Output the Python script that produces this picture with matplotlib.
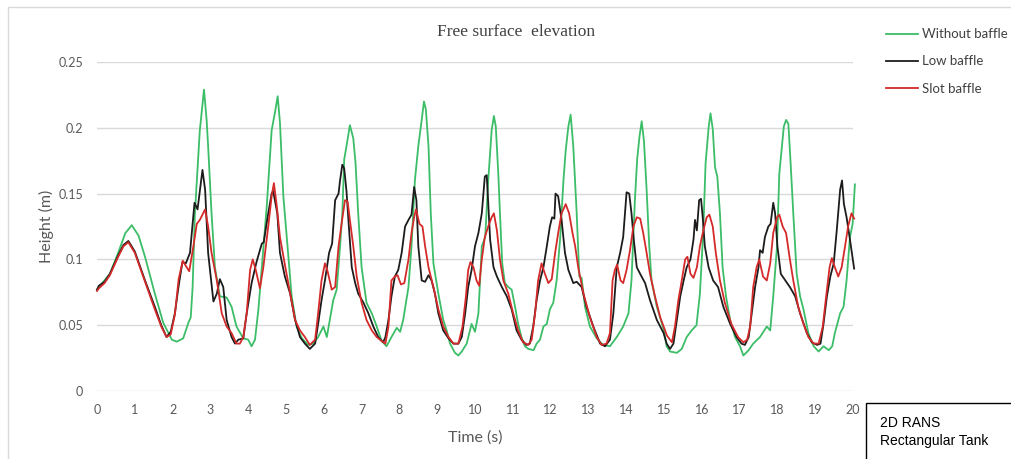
import matplotlib.pyplot as plt
from matplotlib.patches import Rectangle
from matplotlib.ticker import FuncFormatter

# free surface elevation records, time (s) / height (m)
t_without = [0, 0.05, 0.34, 0.56, 0.75, 0.92, 1.1, 1.27, 1.53, 1.75, 1.98, 2.11, 2.28, 2.42, 2.48,
             2.53, 2.59, 2.72, 2.83, 2.90, 2.94, 3.03, 3.12, 3.25, 3.43, 3.56, 3.69, 3.87, 4.0,
             4.09, 4.18, 4.27, 4.36, 4.49, 4.62, 4.71, 4.78, 4.84, 4.93, 5.06, 5.15, 5.28, 5.42,
             5.59, 5.72, 5.85, 5.99, 6.08, 6.16, 6.25, 6.34, 6.43, 6.49, 6.54, 6.60, 6.69, 6.78,
             6.84, 6.91, 7.00, 7.13, 7.27, 7.40, 7.53, 7.66, 7.79, 7.93, 8.02, 8.10, 8.24, 8.32,
             8.41, 8.50, 8.59, 8.65, 8.70, 8.77, 8.83, 8.90, 9.03, 9.16, 9.25, 9.34, 9.47, 9.56,
             9.65, 9.78, 9.91, 10.0, 10.09, 10.18, 10.27, 10.35, 10.44, 10.50, 10.55, 10.62,
             10.66, 10.72, 10.79, 10.88, 10.97, 11.06, 11.14, 11.23, 11.32, 11.41, 11.55, 11.63,
             11.72, 11.81, 11.90, 11.98, 12.07, 12.16, 12.25, 12.34, 12.40, 12.47, 12.53, 12.60,
             12.69, 12.76, 12.82, 12.91, 13.04, 13.22, 13.39, 13.57, 13.75, 13.92, 14.06, 14.14,
             14.23, 14.29, 14.35, 14.41, 14.47, 14.54, 14.61, 14.67, 14.81, 14.99, 15.07, 15.16,
             15.34, 15.47, 15.60, 15.73, 15.86, 15.95, 16.04, 16.10, 16.18, 16.23, 16.29, 16.35,
             16.41, 16.48, 16.55, 16.64, 16.75, 16.88, 17.01, 17.10, 17.24, 17.36, 17.54, 17.72,
             17.81, 17.89, 17.99, 18.05, 18.11, 18.17, 18.23, 18.29, 18.35, 18.42, 18.51, 18.60,
             18.69, 18.82, 18.96, 19.09, 19.22, 19.36, 19.45, 19.52, 19.66, 19.75, 19.83, 19.92,
             19.99, 20.05]
h_without = [0.077, 0.079, 0.089, 0.105, 0.120, 0.126, 0.118, 0.102, 0.074, 0.052, 0.039, 0.0375,
             0.040, 0.052, 0.056, 0.079, 0.135, 0.198, 0.229, 0.206, 0.186, 0.135, 0.094, 0.072,
             0.071, 0.064, 0.049, 0.040, 0.039, 0.034, 0.039, 0.062, 0.094, 0.140, 0.198, 0.212,
             0.224, 0.204, 0.148, 0.103, 0.072, 0.049, 0.040, 0.035, 0.036, 0.041, 0.049, 0.041,
             0.054, 0.069, 0.077, 0.110, 0.135, 0.176, 0.186, 0.202, 0.192, 0.173, 0.135, 0.094,
             0.067, 0.059, 0.049, 0.038, 0.034, 0.041, 0.048, 0.045, 0.054, 0.079, 0.110, 0.160,
             0.186, 0.206, 0.220, 0.214, 0.186, 0.135, 0.097, 0.074, 0.054, 0.046, 0.036, 0.029,
             0.027, 0.030, 0.036, 0.051, 0.045, 0.059, 0.110, 0.117, 0.160, 0.198, 0.209, 0.201,
             0.163, 0.135, 0.097, 0.082, 0.079, 0.077, 0.064, 0.051, 0.041, 0.034, 0.032, 0.031,
             0.036, 0.039, 0.049, 0.051, 0.062, 0.067, 0.084, 0.115, 0.160, 0.183, 0.201, 0.210,
             0.186, 0.135, 0.087, 0.086, 0.064, 0.049, 0.040, 0.035, 0.034, 0.041, 0.049, 0.059,
             0.084, 0.145, 0.176, 0.193, 0.205, 0.190, 0.153, 0.110, 0.084, 0.064, 0.047, 0.034,
             0.030, 0.029, 0.032, 0.041, 0.046, 0.050, 0.074, 0.122, 0.173, 0.200, 0.211, 0.199,
             0.170, 0.163, 0.135, 0.094, 0.072, 0.054, 0.041, 0.034, 0.027, 0.031, 0.036, 0.041,
             0.049, 0.046, 0.072, 0.110, 0.165, 0.183, 0.201, 0.206, 0.203, 0.173, 0.135, 0.089,
             0.072, 0.062, 0.044, 0.034, 0.030, 0.034, 0.031, 0.034, 0.044, 0.059, 0.064, 0.084,
             0.117, 0.127, 0.157]

t_low = [0, 0.05, 0.2, 0.34, 0.56, 0.7, 0.83, 1.0, 1.27, 1.53, 1.70, 1.84, 1.95, 2.06, 2.16, 2.26,
         2.35, 2.46, 2.58, 2.66, 2.79, 2.86, 2.94, 3.08, 3.17, 3.25, 3.34, 3.43, 3.56, 3.65, 3.74,
         3.87, 3.96, 4.09, 4.22, 4.36, 4.41, 4.53, 4.62, 4.66, 4.77, 4.84, 4.97, 5.11, 5.24, 5.37,
         5.50, 5.63, 5.77, 5.85, 5.94, 6.03, 6.14, 6.22, 6.30, 6.39, 6.43, 6.49, 6.54, 6.60, 6.67,
         6.74, 6.83, 6.91, 7.05, 7.18, 7.31, 7.44, 7.57, 7.63, 7.71, 7.79, 7.88, 7.97, 8.06, 8.15,
         8.24, 8.32, 8.39, 8.45, 8.50, 8.59, 8.68, 8.77, 8.85, 8.94, 9.03, 9.16, 9.30, 9.43, 9.56,
         9.65, 9.74, 9.82, 9.91, 10.0, 10.09, 10.18, 10.26, 10.31, 10.35, 10.40, 10.49, 10.58,
         10.71, 10.84, 10.97, 11.10, 11.23, 11.36, 11.45, 11.54, 11.63, 11.72, 11.81, 11.90,
         11.98, 12.04, 12.10, 12.13, 12.20, 12.29, 12.38, 12.47, 12.60, 12.69, 12.82, 12.95,
         13.13, 13.31, 13.44, 13.57, 13.66, 13.75, 13.84, 13.92, 14.01, 14.08, 14.14, 14.20,
         14.28, 14.37, 14.50, 14.63, 14.81, 14.99, 15.07, 15.16, 15.25, 15.34, 15.43, 15.52,
         15.60, 15.70, 15.78, 15.82, 15.87, 15.93, 15.98, 16.03, 16.08, 16.18, 16.30, 16.43,
         16.57, 16.75, 16.92, 17.05, 17.14, 17.24, 17.32, 17.41, 17.50, 17.54, 17.61, 17.67,
         17.76, 17.82, 17.89, 17.94, 18.0, 18.09, 18.21, 18.33, 18.47, 18.60, 18.78, 18.91,
         19.05, 19.14, 19.22, 19.31, 19.40, 19.49, 19.57, 19.66, 19.71, 19.76, 19.83, 19.92,
         20.03]
h_low = [0.077, 0.080, 0.083, 0.089, 0.103, 0.111, 0.114, 0.106, 0.084, 0.064, 0.050, 0.041,
         0.045, 0.059, 0.080, 0.098, 0.097, 0.105, 0.143, 0.138, 0.168, 0.153, 0.105, 0.068,
         0.074, 0.085, 0.079, 0.054, 0.041, 0.036, 0.039, 0.040, 0.059, 0.082, 0.098, 0.112,
         0.113, 0.135, 0.150, 0.152, 0.135, 0.105, 0.087, 0.074, 0.054, 0.041, 0.036, 0.032,
         0.036, 0.051, 0.069, 0.084, 0.105, 0.112, 0.145, 0.150, 0.160, 0.172, 0.169, 0.152,
         0.122, 0.094, 0.082, 0.074, 0.067, 0.059, 0.049, 0.041, 0.037, 0.041, 0.054, 0.072,
         0.087, 0.092, 0.105, 0.125, 0.130, 0.134, 0.155, 0.145, 0.110, 0.084, 0.083, 0.088,
         0.084, 0.074, 0.059, 0.046, 0.040, 0.036, 0.036, 0.041, 0.059, 0.079, 0.092, 0.110,
         0.120, 0.135, 0.163, 0.164, 0.143, 0.115, 0.094, 0.087, 0.079, 0.072, 0.062, 0.046,
         0.039, 0.035, 0.036, 0.049, 0.069, 0.084, 0.094, 0.110, 0.125, 0.132, 0.131, 0.150,
         0.148, 0.130, 0.105, 0.092, 0.082, 0.083, 0.079, 0.064, 0.049, 0.036, 0.034, 0.039,
         0.059, 0.094, 0.105, 0.117, 0.151, 0.150, 0.135, 0.115, 0.094, 0.089, 0.082, 0.069,
         0.054, 0.044, 0.036, 0.032, 0.036, 0.054, 0.072, 0.084, 0.094, 0.100, 0.115, 0.130,
         0.122, 0.145, 0.146, 0.130, 0.110, 0.094, 0.084, 0.079, 0.064, 0.051, 0.041, 0.036,
         0.035, 0.041, 0.059, 0.079, 0.094, 0.107, 0.105, 0.117, 0.125, 0.127, 0.143, 0.135,
         0.110, 0.089, 0.084, 0.079, 0.072, 0.059, 0.044, 0.037, 0.035, 0.036, 0.051, 0.072,
         0.087, 0.097, 0.122, 0.153, 0.160, 0.142, 0.132, 0.115, 0.093]

t_slot = [0, 0.05, 0.2, 0.34, 0.56, 0.7, 0.83, 1.0, 1.27, 1.53, 1.70, 1.84, 1.95, 2.06, 2.16, 2.27,
          2.35, 2.44, 2.55, 2.64, 2.72, 2.86, 2.94, 3.03, 3.17, 3.30, 3.43, 3.56, 3.69, 3.78, 3.87,
          3.96, 4.05, 4.12, 4.20, 4.31, 4.40, 4.53, 4.62, 4.68, 4.75, 4.84, 4.97, 5.11, 5.24, 5.37,
          5.50, 5.63, 5.77, 5.85, 5.94, 6.03, 6.10, 6.21, 6.30, 6.39, 6.47, 6.56, 6.63, 6.69, 6.78,
          6.87, 7.00, 7.13, 7.27, 7.40, 7.53, 7.63, 7.71, 7.79, 7.88, 7.95, 8.04, 8.13, 8.24, 8.32,
          8.39, 8.44, 8.53, 8.61, 8.68, 8.77, 8.90, 9.03, 9.16, 9.30, 9.43, 9.56, 9.67, 9.76, 9.82,
          9.88, 9.96, 10.04, 10.11, 10.18, 10.26, 10.35, 10.44, 10.50, 10.58, 10.66, 10.75, 10.88,
          11.01, 11.14, 11.27, 11.41, 11.50, 11.59, 11.67, 11.76, 11.85, 11.94, 12.03, 12.12,
          12.20, 12.29, 12.40, 12.49, 12.58, 12.65, 12.73, 12.87, 13.04, 13.22, 13.35, 13.48,
          13.57, 13.64, 13.70, 13.76, 13.85, 13.92, 14.01, 14.10, 14.19, 14.28, 14.37, 14.45,
          14.54, 14.63, 14.76, 14.90, 15.08, 15.21, 15.29, 15.38, 15.47, 15.56, 15.62, 15.70,
          15.78, 15.87, 15.95, 16.04, 16.13, 16.20, 16.29, 16.37, 16.48, 16.61, 16.78, 16.96,
          17.10, 17.20, 17.28, 17.36, 17.45, 17.52, 17.62, 17.72, 17.81, 17.89, 17.99, 18.05,
          18.14, 18.23, 18.32, 18.42, 18.55, 18.69, 18.82, 18.96, 19.09, 19.20, 19.29, 19.38,
          19.44, 19.52, 19.61, 19.70, 19.79, 19.87, 19.96, 20.03]
h_slot = [0.076, 0.078, 0.082, 0.088, 0.102, 0.110, 0.113, 0.105, 0.083, 0.062, 0.049, 0.041,
          0.043, 0.058, 0.085, 0.099, 0.095, 0.091, 0.110, 0.127, 0.130, 0.138, 0.125, 0.105,
          0.084, 0.059, 0.049, 0.044, 0.036, 0.036, 0.041, 0.059, 0.092, 0.100, 0.092, 0.078,
          0.094, 0.125, 0.148, 0.158, 0.142, 0.117, 0.096, 0.074, 0.054, 0.046, 0.041, 0.035,
          0.039, 0.059, 0.084, 0.097, 0.091, 0.077, 0.079, 0.110, 0.127, 0.145, 0.144, 0.130,
          0.110, 0.087, 0.067, 0.054, 0.046, 0.041, 0.038, 0.036, 0.049, 0.084, 0.087, 0.088,
          0.081, 0.082, 0.100, 0.120, 0.132, 0.138, 0.127, 0.125, 0.110, 0.094, 0.079, 0.062,
          0.049, 0.041, 0.036, 0.036, 0.049, 0.072, 0.092, 0.098, 0.094, 0.084, 0.080, 0.100,
          0.117, 0.125, 0.132, 0.135, 0.122, 0.100, 0.084, 0.074, 0.059, 0.046, 0.037, 0.035,
          0.039, 0.059, 0.084, 0.097, 0.089, 0.082, 0.085, 0.105, 0.120, 0.135, 0.142, 0.135,
          0.120, 0.110, 0.094, 0.074, 0.056, 0.041, 0.035, 0.036, 0.044, 0.084, 0.092, 0.096,
          0.084, 0.082, 0.092, 0.107, 0.125, 0.132, 0.131, 0.120, 0.105, 0.089, 0.072, 0.056,
          0.042, 0.037, 0.049, 0.069, 0.084, 0.100, 0.102, 0.089, 0.086, 0.094, 0.110, 0.122,
          0.132, 0.134, 0.125, 0.105, 0.084, 0.067, 0.051, 0.041, 0.037, 0.039, 0.049, 0.079,
          0.094, 0.100, 0.087, 0.084, 0.097, 0.120, 0.132, 0.134, 0.125, 0.120, 0.102, 0.084,
          0.064, 0.051, 0.041, 0.036, 0.036, 0.049, 0.072, 0.094, 0.101, 0.094, 0.087, 0.094,
          0.110, 0.125, 0.135, 0.131]

x_ticks = list(range(0, 21))
y_ticks = [0, 0.05, 0.1, 0.15, 0.2, 0.25]

grey = '#595959'
plt.rcParams['font.family'] = ['Lato', 'DejaVu Sans']

fig = plt.figure(figsize=(10.11, 4.59), dpi=100)
W, H = 1011, 459

# chart area outline
fig.patches.append(Rectangle((8 / W, -0.05), 1.1, 1 - 7 / H + 0.05, transform=fig.transFigure,
                             fill=False, edgecolor='#d9d9d9', lw=1.0))

ax = fig.add_axes([97 / W, 1 - 391 / H, (853 - 97) / W, (391 - 62) / H])
ax.plot(t_without, h_without, color='#3cbd68', lw=1.3, label='Without baffle', clip_on=False)
ax.plot(t_low, h_low, color='#1c1c1c', lw=1.3, label='Low baffle', clip_on=False)
ax.plot(t_slot, h_slot, color='#d42a2a', lw=1.3, label='Slot baffle', clip_on=False)

ax.set_xlim(0, 20)
ax.set_ylim(0, 0.25)
ax.set_xticks(x_ticks)
ax.set_yticks(y_ticks)
ax.yaxis.set_major_formatter(FuncFormatter(lambda v, p: f'{v:g}'))
ax.grid(axis='y', color='#d9d9d9', lw=1.0)
ax.set_axisbelow(True)
for s in ax.spines.values():
    s.set_visible(False)
ax.tick_params(length=0, labelsize=9, colors=grey)
ax.tick_params(axis='x', pad=9)
ax.tick_params(axis='y', pad=10)

ax.set_xlabel('Time (s)', fontsize=11.5, color=grey, labelpad=11)
ax.set_ylabel('Height (m)', fontsize=11.5, color=grey, labelpad=3)

fig.text(516 / W, 1 - 32 / H, 'Free surface  elevation', ha='center', va='center',
         fontsize=12.5, color='#404040', family='Liberation Serif')

fig.legend(loc='upper left', bbox_to_anchor=(881 / W, 1 - 23 / H), frameon=False,
           fontsize=9.5, handlelength=2.4, handletextpad=0.3, labelspacing=1.15,
           labelcolor='#404040', borderaxespad=0)

# annotation box in the lower right corner
fig.patches.append(Rectangle((866 / W, -0.05), 0.2, 1 - 403 / H + 0.05, transform=fig.transFigure,
                             facecolor='white', edgecolor='black', lw=1.0))
fig.text(880 / W, 1 - 432 / H, '2D RANS\nRectangular Tank', ha='left', va='center',
         fontsize=10, color='black', family='Liberation Sans', linespacing=1.45)

fig.savefig('out.png', dpi=100)
